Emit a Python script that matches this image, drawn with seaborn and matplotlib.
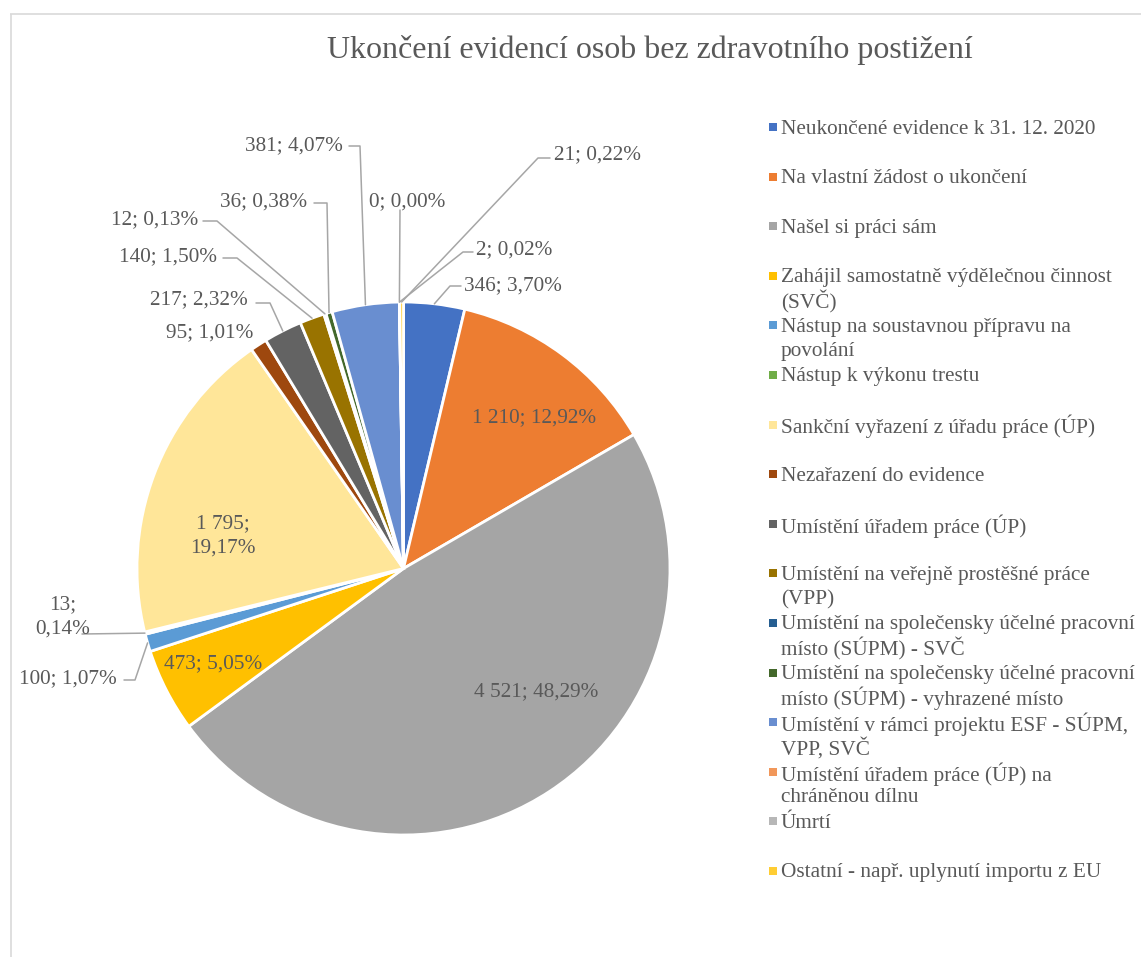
"""Pie chart of ended registrations of people without health disability."""
import math
import matplotlib.pyplot as plt
import seaborn as sns

sns.set_style("white")
plt.rcParams['font.family'] = ['Liberation Serif', 'DejaVu Serif']

# --- data -----------------------------------------------------------------
title = "Ukončení evidencí osob bez zdravotního postižení"

categories = [
    "Neukončené evidence k 31. 12. 2020",
    "Na vlastní žádost o ukončení",
    "Našel si práci sám",
    "Zahájil samostatně výdělečnou činnost (SVČ)",
    "Nástup na soustavnou přípravu na povolání",
    "Nástup k výkonu trestu",
    "Sankční vyřazení z úřadu práce (ÚP)",
    "Nezařazení do evidence",
    "Umístění úřadem práce (ÚP)",
    "Umístění na veřejně prostěšné práce (VPP)",
    "Umístění na společensky účelné pracovní místo (SÚPM) - SVČ",
    "Umístění na společensky účelné pracovní místo (SÚPM) - vyhrazené místo",
    "Umístění v rámci projektu ESF - SÚPM, VPP, SVČ",
    "Umístění úřadem práce (ÚP) na chráněnou dílnu",
    "Úmrtí",
    "Ostatní - např. uplynutí importu z EU",
]
counts = [346, 1210, 4521, 473, 100, 13, 1795, 95, 217, 140, 12, 36, 381, 0, 2, 21]

# legend text as wrapped in the original
legend_labels = [
    "Neukončené evidence k 31. 12. 2020",
    "Na vlastní žádost o ukončení",
    "Našel si práci sám",
    "Zahájil samostatně výdělečnou činnost\n(SVČ)",
    "Nástup na soustavnou přípravu na\npovolání",
    "Nástup k výkonu trestu",
    "Sankční vyřazení z úřadu práce (ÚP)",
    "Nezařazení do evidence",
    "Umístění úřadem práce (ÚP)",
    "Umístění na veřejně prostěšné práce\n(VPP)",
    "Umístění na společensky účelné pracovní\nmísto (SÚPM) - SVČ",
    "Umístění na společensky účelné pracovní\nmísto (SÚPM) - vyhrazené místo",
    "Umístění v rámci projektu ESF - SÚPM,\nVPP, SVČ",
    "Umístění úřadem práce (ÚP) na\nchráněnou dílnu",
    "Úmrtí",
    "Ostatní - např. uplynutí importu z EU",
]

colors = ['#4472C4', '#ED7D31', '#A5A5A5', '#FFC000', '#5B9BD5', '#70AD47',
          '#FFE699', '#9E480E', '#636363', '#997300', '#255E91', '#43682B',
          '#698ED0', '#F1975A', '#B7B7B7', '#FFCD33']

# --- layout (pixel coords, measured from the top-left) ---------------------
W, H = 1141, 957
TEXT = '#595959'
LEADER = '#A6A6A6'
FS = 15.3
TXT_SHIFT = 2  # text baseline correction (px, downwards)
PIE_CENTER = (403.5, 568.5)
PIE_RADIUS = 266.5

# slice index -> (label centre, leader points after the wedge edge, wrapped)
label_layout = {
    0: ((513, 284), [(450, 286), (461, 286)], False),
    1: ((534, 416), None, False),
    2: ((536, 690), None, False),
    3: ((213, 662), None, False),
    4: ((68, 677), [(135, 680), (124, 680)], False),
    5: ((63, 615), [(82, 634)], True),
    6: ((223, 534), None, True),
    7: ((210, 331), None, False),
    8: ((199, 298), [(270, 303), (256, 303)], False),
    9: ((168, 255), [(237, 258), (223, 258)], False),
    10: ((155, 218), [(217, 221), (203, 221)], False),
    11: ((264, 200), [(327, 203), (314, 203)], False),
    12: ((294, 144), [(360, 146), (349, 146)], False),
    13: ((407, 200), [(400, 210)], False),
    14: ((514, 248), [(463, 252), (473, 252)], False),
    15: ((598, 153), [(538, 158), (550, 158)], False),
}


def up(y):
    return H - y


fig = plt.figure(figsize=(W / 100, H / 100), dpi=100, facecolor='white')
ax = fig.add_axes([0, 0, 1, 1])

wedges, _ = ax.pie(counts, colors=colors, startangle=90, counterclock=False,
                   center=(PIE_CENTER[0], up(PIE_CENTER[1])), radius=PIE_RADIUS,
                   wedgeprops=dict(edgecolor='white', linewidth=2))
ax.set_xlim(0, W)
ax.set_ylim(0, H)
ax.set_aspect('equal')
ax.axis('off')

# chart border (top and left edges visible)
ax.plot([10, W], [up(13.5), up(13.5)], color='#D9D9D9', lw=1.2, solid_capstyle='butt')
ax.plot([10.5, 10.5], [up(13.5), 0], color='#D9D9D9', lw=1.2, solid_capstyle='butt')

ax.text(650, up(48 + TXT_SHIFT), title, ha='center', va='center', fontsize=23, color=TEXT)

total = sum(counts)
for i, (w, v) in enumerate(zip(wedges, counts)):
    (cx, cy), pts, wrapped = label_layout[i]
    num = f"{v:,}".replace(",", " ")
    pct = f"{v / total * 100:.2f}".replace(".", ",") + "%"
    lines = [num + ";", pct] if wrapped else [f"{num}; {pct}"]
    for k, line in enumerate(lines):
        dy = (k - (len(lines) - 1) / 2) * 24
        ax.text(cx, up(cy + dy + TXT_SHIFT), line, ha='center', va='center',
                fontsize=FS, color=TEXT)
    if pts:
        # leader line starts on the wedge's outer edge at its mid-angle
        ang = math.radians((w.theta1 + w.theta2) / 2)
        ex = w.center[0] + w.r * math.cos(ang)
        ey = w.center[1] + w.r * math.sin(ang)
        xs = [ex] + [p[0] for p in pts]
        ys = [ey] + [up(p[1]) for p in pts]
        ax.plot(xs, ys, color=LEADER, lw=1.1)

# legend
for i, lab in enumerate(legend_labels):
    y0 = 127 + i * 49.6
    ax.scatter([773], [up(y0)], marker='s', s=26, color=colors[i], linewidths=0)
    for k, line in enumerate(lab.split("\n")):
        ax.text(781, up(y0 + k * 24 + TXT_SHIFT), line, ha='left', va='center',
                fontsize=FS, color=TEXT)

fig.savefig('out.png', dpi=100, facecolor='white')
plt.close()
